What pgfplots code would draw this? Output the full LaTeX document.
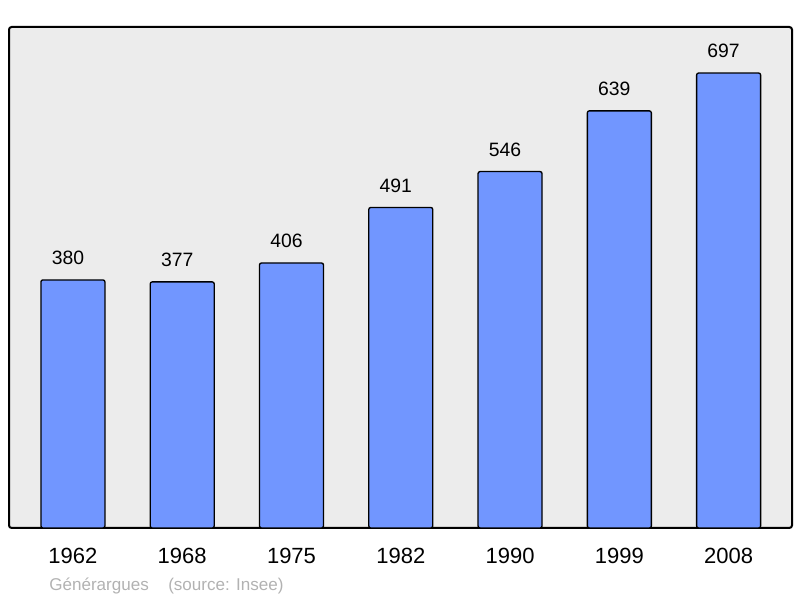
\documentclass[border=0pt]{standalone}
\usepackage{pgfplots}
\pgfplotsset{compat=1.18}
\usepackage{fontspec}
\setmainfont{Liberation Sans}
\definecolor{barblue}{RGB}{113,150,255}
\definecolor{panel}{RGB}{236,236,236}
\definecolor{srcgray}{RGB}{178,178,178}
\begin{document}
\begin{tikzpicture}
    % page frame: 800x598 px at 0.75pt per px, axis box at (9,27)-(792,528)
    \path[use as bounding box] (-6.75pt,-52.5pt) rectangle (593.25pt,396pt);
    \begin{axis}[
        at={(0,0)}, anchor=south west,
        scale only axis,
        width=587.25pt, height=375.75pt,
        axis background/.style={fill=panel, rounded corners=2pt},
        axis line style={line width=1.5pt, rounded corners=2pt},
        xmin=-0.585, xmax=6.58,
        ymin=0, ymax=767.5,
        ytick=\empty,
        xtick=data,
        xticklabels={1962,1968,1975,1982,1990,1999,2008},
        major tick length=0pt,
        xticklabel style={anchor=center, yshift=-21pt,
            font=\fontsize{16.5}{18}\selectfont},
        ybar, bar width=48pt,
        nodes near coords,
        /pgf/number format/assume math mode=true,
        every node near coord/.append style={anchor=center, yshift=16.5pt,
            xshift=-3.75pt, font=\fontsize{14.5}{16}\selectfont, text=black},
        clip=false,
    ]
    \addplot[fill=barblue, draw=black, line width=1pt, rounded corners=1.5pt]
        coordinates {(0,380) (1,377) (2,406) (3,491) (4,546) (5,639) (6,697)};
    \node[anchor=base west, text=srcgray, font=\fontsize{12.8}{14}\selectfont,
        inner sep=0pt] at ([xshift=30pt, yshift=-47pt]rel axis cs:0,0) {Générargues};
    \node[anchor=base west, text=srcgray, font=\fontsize{12.8}{14}\selectfont,
        inner sep=0pt] at ([xshift=119.25pt, yshift=-47pt]rel axis cs:0,0) {(source: Insee)};
    \end{axis}
\end{tikzpicture}
\end{document}
